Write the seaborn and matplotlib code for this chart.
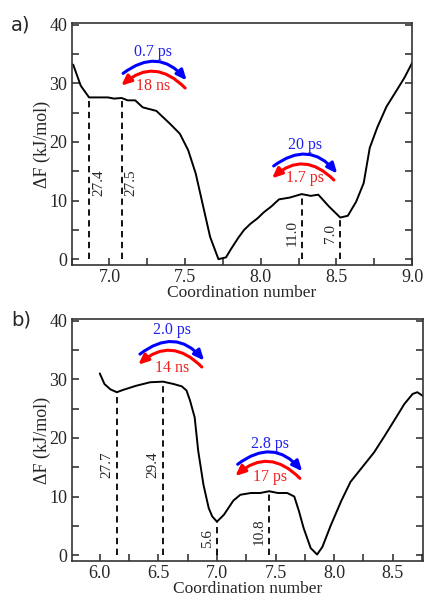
import pandas as pd
import matplotlib.pyplot as plt
import seaborn as sns
from matplotlib.patches import FancyArrowPatch
from matplotlib.ticker import MultipleLocator

# Panel a) free energy profile
a_coord = [6.76, 6.81, 6.865, 6.99, 7.03, 7.08, 7.12, 7.17, 7.22, 7.31, 7.40, 7.465,
           7.52, 7.57, 7.62, 7.665, 7.72, 7.77, 7.80, 7.85, 7.89, 7.93, 7.98, 8.02,
           8.07, 8.12, 8.19, 8.27, 8.33, 8.38, 8.45, 8.525, 8.575, 8.63, 8.68, 8.72,
           8.77, 8.83, 8.90, 8.95, 9.0]
a_free = [33.2, 29.6, 27.6, 27.6, 27.4, 27.5, 27.1, 27.1, 25.9, 25.3, 23.1, 21.4,
          18.6, 14.6, 8.9, 3.8, 0.0, 0.3, 1.6, 3.6, 5.0, 6.0, 7.0, 8.0,
          9.0, 10.2, 10.5, 11.1, 10.8, 11.0, 9.0, 7.1, 7.4, 9.8, 13.0, 19.0,
          22.5, 26.0, 28.9, 31.0, 33.5]
a_mark_x = [6.865, 7.08, 8.27, 8.525]
a_mark_y = [27.6, 27.5, 11.1, 7.1]
a_mark_lab = ["27.4", "27.5", "11.0", "7.0"]
a_mark_lab_y = [13.0, 13.0, 4.4, 4.3]
a_mark_side = [1, 1, -1, -1]
a_rate_fwd = ["0.7 ps", "20 ps"]
a_rate_bwd = ["18 ns", "1.7 ps"]
a_rate_x = [7.29, 8.29]
a_blue_arc = [((7.09, 31.7), (7.51, 30.5)), ((8.085, 15.9), (8.505, 14.6))]
a_red_arc = [((7.50, 29.2), (7.078, 29.6)), ((8.483, 13.5), (8.074, 13.8))]
a_fwd_y = [35.3, 19.4]
a_bwd_y = [29.6, 13.8]

# Panel b) free energy profile
b_coord = [6.0, 6.04, 6.09, 6.145, 6.2, 6.31, 6.43, 6.54, 6.63, 6.70, 6.74, 6.77,
           6.81, 6.84, 6.885, 6.93, 6.96, 7.0, 7.06, 7.14, 7.2, 7.29, 7.37, 7.445,
           7.52, 7.6, 7.66, 7.7, 7.74, 7.8, 7.855, 7.9, 7.97, 8.06, 8.14, 8.26,
           8.34, 8.43, 8.52, 8.6, 8.67, 8.71, 8.77]
b_free = [31.0, 29.2, 28.3, 27.8, 28.2, 28.9, 29.5, 29.6, 29.2, 28.8, 28.1, 26.4,
          23.5, 17.8, 12.0, 8.0, 6.6, 5.7, 6.9, 9.3, 10.3, 10.6, 10.6, 10.9,
          10.6, 10.6, 10.0, 7.5, 4.6, 1.2, 0.1, 1.4, 5.0, 9.2, 12.5, 15.5,
          17.5, 20.3, 23.2, 25.8, 27.5, 27.8, 27.0]
b_mark_x = [6.145, 6.54, 7.0, 7.445]
b_mark_y = [27.8, 29.6, 5.7, 10.9]
b_mark_lab = ["27.7", "29.4", "5.6", "10.8"]
b_mark_lab_y = [15.5, 15.5, 2.9, 4.0]
b_mark_side = [-1, -1, -1, -1]
b_rate_fwd = ["2.0 ps", "2.8 ps"]
b_rate_bwd = ["14 ns", "17 ps"]
b_rate_x = [6.614, 7.457]
b_blue_arc = [((6.343, 34.3), (6.891, 33.2)), ((7.177, 15.5), (7.728, 14.3))]
b_red_arc = [((6.871, 32.1), (6.329, 32.5)), ((7.708, 13.1), (7.157, 13.5))]
b_fwd_y = [38.4, 18.9]
b_bwd_y = [32.0, 13.3]

SERIF = "Liberation Serif"


def draw_panel(ax, coord, free, marks, rates, xlim):
    """Draws one free energy profile with barrier markers and rate arrows."""
    df = pd.DataFrame({"cn": coord, "dF": free})
    sns.lineplot(data=df, x="cn", y="dF", ax=ax, color="black", lw=1.4,
                 sort=False, estimator=None)

    mx, my, mlab, mlab_y, mside = marks
    for x, y, lab, ly, side in zip(mx, my, mlab, mlab_y, mside):
        ax.plot([x, x], [0, y], color="black", lw=1.3, ls=(0, (3.5, 2.5)))
        ax.annotate(lab, xy=(x, ly), xytext=(7 * side, 0), textcoords="offset points",
                    rotation=90, ha="center", va="center", fontsize=11,
                    family=SERIF)

    fwd, bwd, rx, blue_arc, red_arc, fy, by = rates
    for i in range(len(fwd)):
        for (p0, p1), col, rad in ((blue_arc[i], "blue", -0.47),
                                   (red_arc[i], "red", 0.47)):
            arr = FancyArrowPatch(p0, p1, connectionstyle=f"arc3,rad={rad}",
                                  arrowstyle="-|>,head_length=0.5,head_width=0.22",
                                  mutation_scale=12, color=col, lw=2.2,
                                  shrinkA=0, shrinkB=0)
            ax.add_patch(arr)
        ax.text(rx[i], fy[i], fwd[i], color="#2020ee", ha="center", va="center",
                fontsize=11.5, family=SERIF)
        ax.text(rx[i], by[i], bwd[i], color="#ee2020", ha="center", va="center",
                fontsize=11.5, family=SERIF)

    ax.set_xlim(*xlim)
    ax.set_ylim(-1, 40.3)
    ax.xaxis.set_major_locator(MultipleLocator(0.5))
    ax.xaxis.set_minor_locator(MultipleLocator(0.25))
    ax.yaxis.set_major_locator(MultipleLocator(10))
    ax.yaxis.set_minor_locator(MultipleLocator(5))
    ax.xaxis.set_major_formatter(plt.FormatStrFormatter("%.1f"))
    ax.tick_params(which="both", direction="in", length=5, width=1.1,
                   left=True, right=True, bottom=True, top=False,
                   labelsize=13, pad=3)
    for lab in ax.get_xticklabels() + ax.get_yticklabels():
        lab.set_family(SERIF)
    for sp in ax.spines.values():
        sp.set_visible(True)
        sp.set_linewidth(1.2)
        sp.set_color("#333333")
    ax.set_xlabel("Coordination number", fontsize=12.5, family=SERIF, labelpad=-1)
    ax.set_ylabel("ΔF (kJ/mol)", fontsize=13, family=SERIF, labelpad=-1)


sns.set_theme(style="white")
fig = plt.figure(figsize=(4.24, 5.99), dpi=100)
ax_a = fig.add_axes([0.169, 0.5576, 0.803, 0.404])
ax_b = fig.add_axes([0.169, 0.0635, 0.829, 0.404])

draw_panel(ax_a, a_coord, a_free,
           (a_mark_x, a_mark_y, a_mark_lab, a_mark_lab_y, a_mark_side),
           (a_rate_fwd, a_rate_bwd, a_rate_x, a_blue_arc, a_red_arc, a_fwd_y, a_bwd_y),
           (6.75, 9.0))
draw_panel(ax_b, b_coord, b_free,
           (b_mark_x, b_mark_y, b_mark_lab, b_mark_lab_y, b_mark_side),
           (b_rate_fwd, b_rate_bwd, b_rate_x, b_blue_arc, b_red_arc, b_fwd_y, b_bwd_y),
           (5.76, 8.76))

fig.text(21 / 424, 1 - 25 / 599, "a)", fontsize=14, family="DejaVu Sans",
         ha="center", va="center")
fig.text(21 / 424, 1 - 320 / 599, "b)", fontsize=14, family="DejaVu Sans",
         ha="center", va="center")

fig.savefig("out.png", dpi=100)
plt.close(fig)
